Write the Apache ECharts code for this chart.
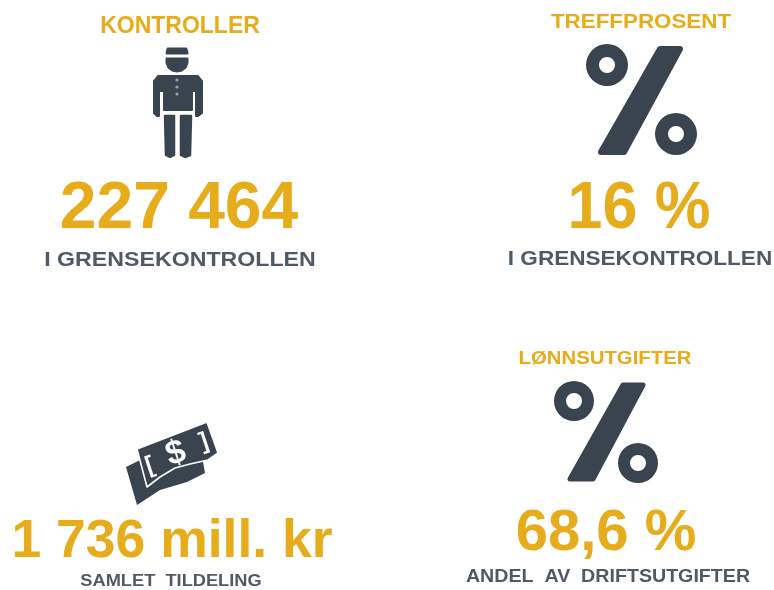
<!DOCTYPE html>
<html><head><meta charset="utf-8">
<style>html,body{margin:0;padding:0;background:#fff}#c{width:774px;height:590px;filter:blur(0.6px)}</style>
<script src="https://cdn.jsdelivr.net/npm/echarts@6/dist/echarts.min.js"></script>
</head><body><div id="c"></div>
<script>
const titles = ['KONTROLLER','TREFFPROSENT','LØNNSUTGIFTER'];
const values = ['227 464','16 %','1 736 mill. kr','68,6 %'];
const captions = ['I GRENSEKONTROLLEN','I GRENSEKONTROLLEN','SAMLET  TILDELING','ANDEL  AV  DRIFTSUTGIFTER'];
const GOLD='#E6AC1C', DARK='#39444F', GREY='#4F5A66';
const FF='"Liberation Sans",Arial,sans-serif';
function txt(t,x,y,size,color,sx){return {type:'text',x,y,scaleX:sx||1,style:{text:t,x:0,y:0,align:'center',verticalAlign:'middle',font:'bold '+size+'px '+FF,fill:color}};}
function ring(cx,cy,r,r0){return {type:'ring',shape:{cx,cy,r,r0},style:{fill:DARK}};}
function poly(points,w){return {type:'polygon',shape:{points},style:{fill:DARK,stroke:DARK,lineWidth:w||0,lineJoin:'round'}};}
const els=[
 txt(titles[0],180,27,23,GOLD,1.0),
 txt(values[0],179,210,66,GOLD,1.0),
 txt(captions[0],180,260,20.5,GREY,1.13),
 txt(titles[1],641,22,21,GOLD,1.065),
 txt(values[1],639,210,66,GOLD,0.95),
 txt(captions[1],640,259,20.5,GREY,1.1),
 txt(values[2],172,542,54,GOLD,0.99),
 txt(captions[2],171,582,16,GREY,1.14),
 txt(titles[2],605,359,19,GOLD,1.07),
 txt(values[3],606,534,58,GOLD,1.0),
 txt(captions[3],608,577,18,GREY,1.09),
 // officer
 poly([[168,49],[186,49],[187,53],[167,53]],3),
 poly([[166,58],[188,58],[188,63],[186,68],[182,71],[177,72],[172,71],[168,68],[166,63]],1),
 poly([[158,76],[198,76],[202,81],[202,113],[198,116],[196,116],[196,91],[192,91],[192,110],[164,110],[164,91],[159,91],[159,116],[157,116],[154,113],[154,81]],2),
 {type:'circle',shape:{cx:177,cy:80,r:1.6},style:{fill:'#9aa1a8'}},
 {type:'circle',shape:{cx:177,cy:87,r:1.6},style:{fill:'#9aa1a8'}},
 {type:'circle',shape:{cx:177,cy:94,r:1.6},style:{fill:'#9aa1a8'}},
 poly([[165,116],[174,116],[174,155],[170,157],[166,155]],2.5),
 poly([[181,116],[191,116],[190,155],[185,157],[181,155]],2.5),
 // percent top
 ring(607,65,21,8),
 poly([[660,49],[680,49],[624,152],[601,152]],6),
 ring(676,134,21,8),
 // percent bottom
 ring(574,401,20,8),
 poly([[623,385],[643,385],[593,479],[570,479]],5),
 ring(638,463,20,8),
 // money
 poly([[126,467],[140,460],[200,445],[205,473],[187,482],[160,490],[137,505]],0),
 {type:'polygon',shape:{points:[[137,449],[207,422],[218,453],[208,460],[190,464],[175,468],[160,477],[147,487]]},style:{fill:DARK,stroke:'#fff',lineWidth:1.6,lineJoin:'round'}},
 {type:'text',x:176,y:454,rotation:0.32,style:{text:'$',x:0,y:0,align:'center',verticalAlign:'middle',font:'bold 34px '+FF,fill:'#fff'}},
 {type:'text',x:150,y:466,rotation:0.32,style:{text:'[',x:0,y:0,align:'center',verticalAlign:'middle',font:'bold 24px '+FF,fill:'#fff'}},
 {type:'text',x:204,y:442,rotation:0.32,style:{text:']',x:0,y:0,align:'center',verticalAlign:'middle',font:'bold 24px '+FF,fill:'#fff'}}
];
const chart=echarts.init(document.getElementById('c'));
chart.setOption({animation:false,backgroundColor:'#fff',graphic:{elements:els}});
</script></body></html>
